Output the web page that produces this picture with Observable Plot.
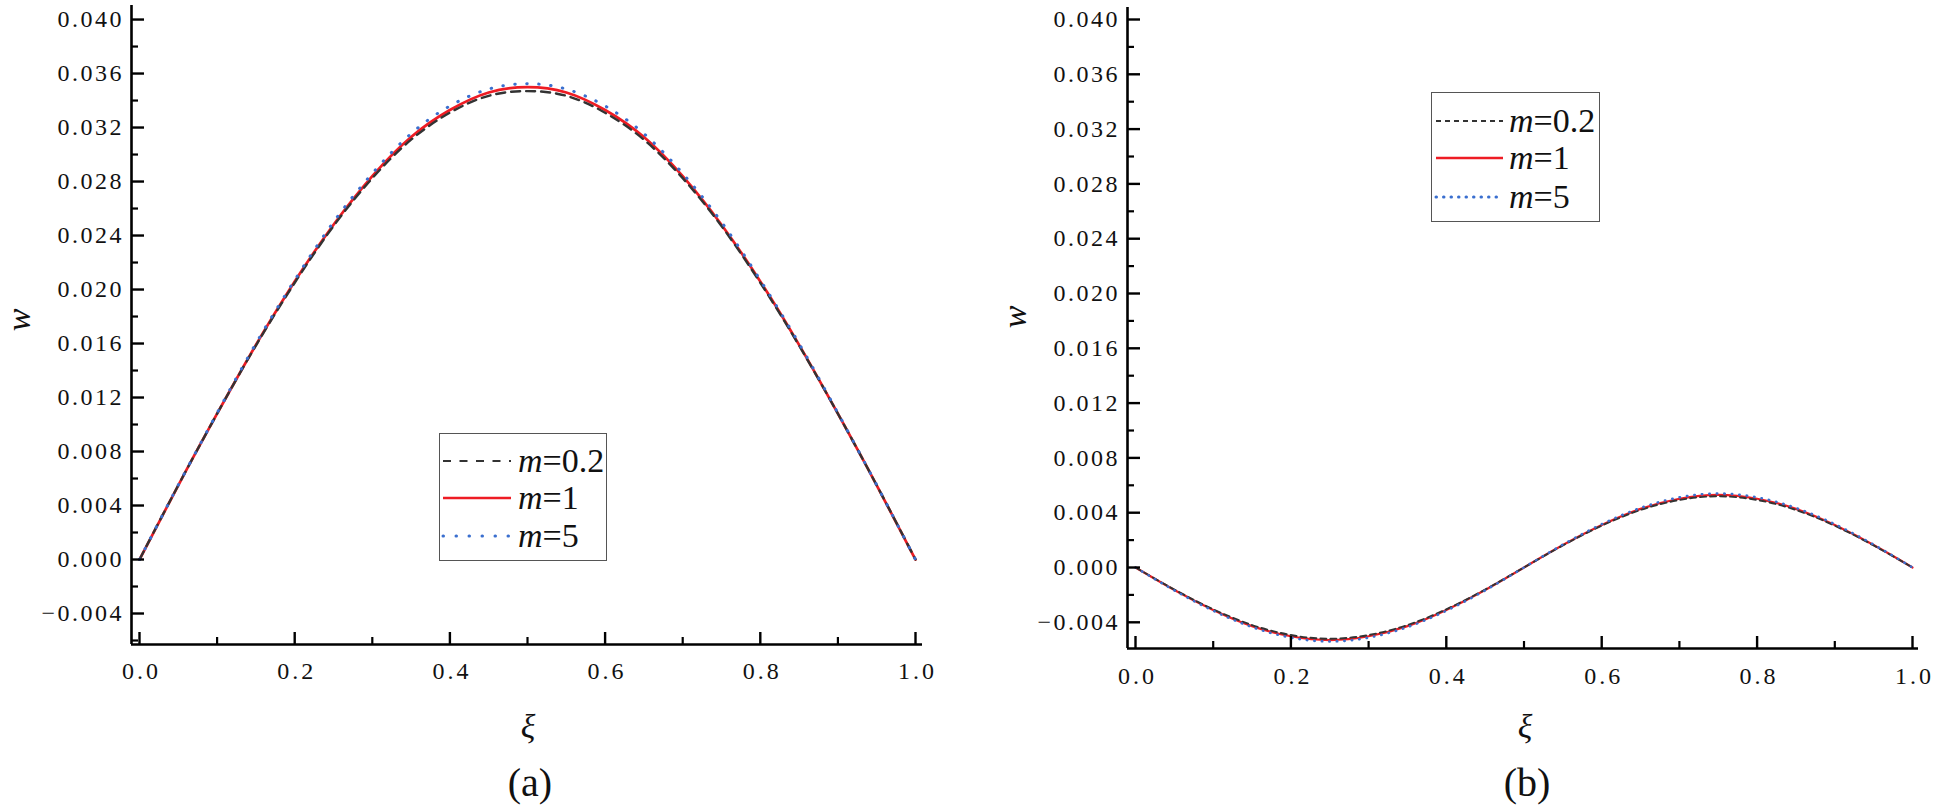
<!DOCTYPE html>
<html>
<head>
<meta charset="utf-8">
<script src="https://cdn.jsdelivr.net/npm/d3@7"></script>
<script src="https://cdn.jsdelivr.net/npm/@observablehq/plot@0.6"></script>
<style>
  html, body { margin: 0; padding: 0; background: #fff; }
  #wrap { position: relative; width: 1938px; height: 805px; overflow: hidden; background: #fff; font-family: "Liberation Serif", "DejaVu Serif", serif; color: #111; }
  .panel { position: absolute; top: 0; }
  .lab { position: absolute; font-family: "Liberation Serif", serif; color: #111; white-space: nowrap; line-height: 1; transform: translate(-50%, -50%); }
  .ital { font-style: italic; }
  .ylab { transform: translate(-50%, -50%) rotate(-90deg); }
  .legend { position: absolute; border: 1.5px solid #555; background: #fff; box-sizing: border-box; }
  .legend .row { position: absolute; left: 0; height: 34px; display: flex; align-items: center; font-family: "Liberation Serif", serif; font-size: 34px; line-height: 1; color: #111; transform: translateY(-50%); }
  .legend .row span { line-height: 1; display: block; }
  .legend svg { display: block; flex: none; }
</style>
</head>
<body>
<div id="wrap"></div>
<script>
// ---------------- data ----------------
const xi = [0, 0.05, 0.1, 0.15, 0.2, 0.25, 0.3, 0.35, 0.4, 0.45, 0.5, 0.55, 0.6, 0.65, 0.7, 0.75, 0.8, 0.85, 0.9, 0.95, 1.0];

// panel (a)
const wA_m02 = [0, 0.00550, 0.01080, 0.01585, 0.02050, 0.02470, 0.02825, 0.03110, 0.03310, 0.03435, 0.03470, 0.03435, 0.03310, 0.03110, 0.02825, 0.02470, 0.02050, 0.01585, 0.01080, 0.00550, 0];
const wA_m1  = [0, 0.00550, 0.01080, 0.01590, 0.02060, 0.02480, 0.02840, 0.03130, 0.03330, 0.03460, 0.03500, 0.03460, 0.03330, 0.03130, 0.02840, 0.02480, 0.02060, 0.01590, 0.01080, 0.00550, 0];
const wA_m5  = [0, 0.00552, 0.01085, 0.01600, 0.02070, 0.02500, 0.02860, 0.03155, 0.03360, 0.03485, 0.03525, 0.03485, 0.03360, 0.03155, 0.02860, 0.02500, 0.02070, 0.01600, 0.01085, 0.00552, 0];

// panel (b)
const wB_m02 = [0, -0.00161, -0.00305, -0.00420, -0.00493, -0.00520, -0.00493, -0.00420, -0.00305, -0.00161, 0, 0.00161, 0.00305, 0.00420, 0.00493, 0.00520, 0.00493, 0.00420, 0.00305, 0.00161, 0];
const wB_m1  = [0, -0.00164, -0.00310, -0.00428, -0.00502, -0.00530, -0.00502, -0.00428, -0.00310, -0.00164, 0, 0.00164, 0.00310, 0.00428, 0.00502, 0.00530, 0.00502, 0.00428, 0.00310, 0.00164, 0];
const wB_m5  = [0, -0.00167, -0.00316, -0.00435, -0.00512, -0.00540, -0.00512, -0.00435, -0.00316, -0.00167, 0, 0.00167, 0.00316, 0.00435, 0.00512, 0.00540, 0.00512, 0.00435, 0.00316, 0.00167, 0];

const seriesNames = ["m=0.2", "m=1", "m=5"];
const xTicksMajor = [0, 0.2, 0.4, 0.6, 0.8, 1.0];
const xTicksMinor = [0.1, 0.3, 0.5, 0.7, 0.9];
const yTicksMajor = [-0.004, 0, 0.004, 0.008, 0.012, 0.016, 0.020, 0.024, 0.028, 0.032, 0.036, 0.040];
const yTicksMinor = [-0.006, -0.002, 0.002, 0.006, 0.010, 0.014, 0.018, 0.022, 0.026, 0.030, 0.034, 0.038];
const panelLabels = ["(a)", "(b)"];
const axisLabelX = "ξ";
const axisLabelY = "w";

// ---------------- build ----------------
function rowsFor(arrs) {
  const rows = [];
  arrs.forEach((arr, k) => arr.forEach((w, i) => rows.push({xi: xi[i], w, m: seriesNames[k]})));
  return rows;
}

const fmtY = d3.format(".3f");
const fmtX = d3.format(".1f");

function panel(cfg) {
  const fw = cfg.width - cfg.marginLeft - cfg.marginRight;
  const fh = cfg.height - cfg.marginTop - cfg.marginBottom;
  const rows = rowsFor(cfg.series);
  const yMin = cfg.yDomain[0];
  const minorY = yTicksMinor.filter(v => v >= cfg.yDomain[0] && v <= cfg.yDomain[1]);
  const svg = Plot.plot({
    width: cfg.width,
    height: cfg.height,
    marginLeft: cfg.marginLeft,
    marginRight: cfg.marginRight,
    marginTop: cfg.marginTop,
    marginBottom: cfg.marginBottom,
    x: {domain: cfg.xDomain, label: null},
    y: {domain: cfg.yDomain, label: null},
    style: {fontFamily: "'Liberation Serif', serif", fontSize: "24px", color: "#111", background: "transparent", overflow: "visible"},
    marks: [
      Plot.line(rows.filter(d => d.m === "m=1"), {x: "xi", y: "w", stroke: "#ee1c24", strokeWidth: cfg.lw + 0.3, curve: "natural"}),
      Plot.line(rows.filter(d => d.m === "m=0.2"), {x: "xi", y: "w", stroke: "#333", strokeWidth: cfg.lw, strokeDasharray: cfg.dash, curve: "natural"}),
      Plot.line(rows.filter(d => d.m === "m=5"), {x: "xi", y: "w", stroke: "#3a6fcf", strokeWidth: cfg.lw + 0.6, strokeDasharray: cfg.dot, strokeLinecap: "round", curve: "natural"}),
      Plot.ruleX([cfg.xDomain[0]], {stroke: "#000", strokeWidth: 2.6}),
      Plot.ruleY([yMin], {stroke: "#000", strokeWidth: 2.6}),
      Plot.tickY(yTicksMajor, {y: d => d, insetRight: fw - 13, stroke: "#000", strokeWidth: 2.4}),
      Plot.tickY(minorY, {y: d => d, insetRight: fw - 7, stroke: "#000", strokeWidth: 2.2}),
      Plot.tickX(xTicksMajor, {x: d => d, insetTop: fh - 12, stroke: "#000", strokeWidth: 2.4}),
      Plot.tickX(xTicksMinor, {x: d => d, insetTop: fh - 7, stroke: "#000", strokeWidth: 2.2}),
      Plot.axisY({ticks: yTicksMajor, tickSize: 0, tickPadding: 10, tickFormat: fmtY, label: null, fontSize: 24, fill: "#111"}),
      Plot.axisX({ticks: xTicksMajor, tickSize: 0, tickPadding: cfg.xPad, tickFormat: fmtX, label: null, fontSize: 24, fill: "#111", dx: 2})
    ]
  });
  // widen the tick label glyph spacing like the original figure's font
  d3.select(svg).selectAll('g[aria-label="y-axis tick label"] text').style("letter-spacing", "2.5px").attr("dx", 2.5);
  d3.select(svg).selectAll('g[aria-label="x-axis tick label"] text').style("letter-spacing", "3px");
  return svg;
}

const wrap = document.getElementById("wrap");

const cfgs = [
  {left: 0, width: 960, height: 700, marginLeft: 131, marginRight: 38, marginTop: 5, marginBottom: 56,
   xDomain: [-0.01031, 1.00902], yDomain: [-0.006296, 0.04104], series: [wA_m02, wA_m1, wA_m5],
   lw: 2.4, dash: "9,6", dot: "0.5,11.5", xPad: 17,
   yLab: [19, 320], xLab: [528, 727], pLab: [530, 783],
   legend: {left: 439, top: 433, width: 168, height: 128, rows: [27, 64, 102], lineX: [3, 71], textX: 78, dash: "8,8.5", dot: "0.5,12.5"}},
  {left: 980, width: 958, height: 700, marginLeft: 147, marginRight: 20, marginTop: 7, marginBottom: 52,
   xDomain: [-0.0103, 1.00772], yDomain: [-0.005912, 0.040876], series: [wB_m02, wB_m1, wB_m5],
   lw: 1.9, dash: "6,4", dot: "0.5,7", xPad: 18,
   yLab: [1015, 317], xLab: [1525, 727], pLab: [1527, 783],
   legend: {left: 1431, top: 92, width: 169, height: 130, rows: [28, 65, 104], lineX: [4, 71], textX: 77, dash: "5,4", dot: "0.5,7"}}
];

cfgs.forEach((cfg, i) => {
  const holder = document.createElement("div");
  holder.className = "panel";
  holder.style.left = cfg.left + "px";
  holder.appendChild(panel(cfg));
  wrap.appendChild(holder);

  const yl = document.createElement("div");
  yl.className = "lab ital ylab";
  yl.style.left = cfg.yLab[0] + "px"; yl.style.top = cfg.yLab[1] + "px"; yl.style.fontSize = "34px";
  yl.textContent = axisLabelY;
  wrap.appendChild(yl);

  const xl = document.createElement("div");
  xl.className = "lab ital";
  xl.style.left = cfg.xLab[0] + "px"; xl.style.top = cfg.xLab[1] + "px"; xl.style.fontSize = "34px";
  xl.textContent = axisLabelX;
  wrap.appendChild(xl);

  const pl = document.createElement("div");
  pl.className = "lab";
  pl.style.left = cfg.pLab[0] + "px"; pl.style.top = cfg.pLab[1] + "px"; pl.style.fontSize = "40px";
  pl.textContent = panelLabels[i];
  wrap.appendChild(pl);

  const L = cfg.legend;
  const lg = document.createElement("div");
  lg.className = "legend";
  lg.style.left = L.left + "px"; lg.style.top = L.top + "px";
  lg.style.width = L.width + "px"; lg.style.height = L.height + "px";
  const styles = [
    {stroke: "#333", width: 2.2, dash: L.dash, cap: "butt"},
    {stroke: "#ee1c24", width: 2.6, dash: null, cap: "butt"},
    {stroke: "#3a6fcf", width: 3, dash: L.dot, cap: "round"}
  ];
  seriesNames.forEach((name, k) => {
    const row = document.createElement("div");
    row.className = "row";
    row.style.top = L.rows[k] + "px";
    const s = styles[k];
    row.innerHTML =
      `<svg width="${L.textX}" height="10"><line x1="${L.lineX[0]}" x2="${L.lineX[1]}" y1="5" y2="5" stroke="${s.stroke}" stroke-width="${s.width}" stroke-linecap="${s.cap}" ${s.dash ? `stroke-dasharray="${s.dash}"` : ""}/></svg>` +
      `<span><i>${name.split("=")[0]}</i>=${name.split("=")[1]}</span>`;
    lg.appendChild(row);
  });
  wrap.appendChild(lg);
});
</script>
</body>
</html>
